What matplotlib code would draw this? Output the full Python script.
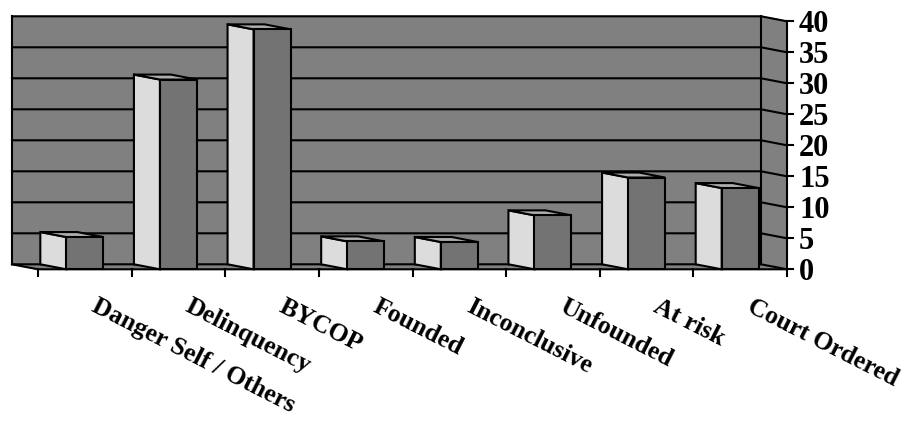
import numpy as np
import matplotlib
matplotlib.use('Agg')
import matplotlib.pyplot as plt

categories = ['Danger Self / Others', 'Delinquency', 'BYCOP', 'Founded',
              'Inconclusive', 'Unfounded', 'At risk', 'Court Ordered']
values = [5.2, 30.6, 38.7, 4.5, 4.4, 8.7, 14.8, 13.1]
y_ticks = [0, 5, 10, 15, 20, 25, 30, 35, 40]

WALL = '#808080'
FRONT = '#737373'
SIDE = '#dcdcdc'
TOP = '#adadad'
LW = 1.5

# figure pixels: category axis runs 38..787 px, value axis 269.3 (0) .. 21.3 (40)
W, H = 916, 425
x_px0, x_px1 = 38.0, 787.0
y_px0, y_px40 = 269.3, 21.3
ncat = len(categories)
ymax = y_ticks[-1]
sx = (x_px1 - x_px0) / ncat          # px per category
sy = (y_px0 - y_px40) / ymax         # px per value unit

# depth offset of the back plane, in data units
dx = -26.0 / sx
dy = 5.0 / sy

fig = plt.figure(figsize=(W / 100, H / 100), dpi=100)
ax = fig.add_axes([0, 0, 1, 1])
ax.set_xlim(-x_px0 / sx, (W - x_px0) / sx)
ax.set_ylim(-(H - y_px0) / sy, y_px0 / sy)
ax.axis('off')

# back wall
ax.fill([dx, ncat + dx, ncat + dx, dx], [dy, dy, ymax + dy, ymax + dy],
        color=WALL, zorder=1)
# right side wall
ax.fill([ncat + dx, ncat, ncat, ncat + dx], [dy, 0, ymax, ymax + dy],
        color=WALL, zorder=1)
# floor
ax.fill([dx, ncat + dx, ncat, 0], [dy, dy, 0, 0], color=WALL, zorder=1)

# gridlines on back and side walls
for t in y_ticks:
    ax.plot([dx, ncat + dx, ncat], [t + dy, t + dy, t], color='black',
            lw=LW, zorder=2, solid_capstyle='projecting')
ax.plot([dx, dx], [dy, ymax + dy], color='black', lw=LW, zorder=2)
ax.plot([ncat + dx, ncat + dx], [dy, ymax + dy], color='black', lw=LW, zorder=2)
# floor edges
ax.plot([dx, 0, ncat], [dy, 0, 0], color='black', lw=LW, zorder=2)

# 3D columns: left side face, top face, front face
bw = 37.0 / sx
for i, v in enumerate(values):
    x0 = i + 0.5 - bw / 2
    x1 = x0 + bw
    ax.fill([x0, x0, x0 + dx, x0 + dx], [0, v, v + dy, dy],
            facecolor=SIDE, edgecolor='black', lw=LW, zorder=3)
    ax.fill([x0, x1, x1 + dx, x0 + dx], [v, v, v + dy, v + dy],
            facecolor=TOP, edgecolor='black', lw=LW, zorder=3)
    ax.fill([x0, x1, x1, x0], [0, 0, v, v],
            facecolor=FRONT, edgecolor='black', lw=LW, zorder=4)

# value axis on the right
ax.plot([ncat, ncat], [0, ymax], color='black', lw=LW, zorder=5)
tick_len_x = 6.0 / sx
for t in y_ticks:
    ax.plot([ncat, ncat + tick_len_x], [t, t], color='black', lw=LW, zorder=5)
    ax.text(ncat + 12.0 / sx, t, str(t), ha='left', va='center_baseline',
            fontsize=22, fontweight='bold', family='Liberation Serif')

# category ticks and labels
tick_len_y = 7.0 / sy
for i in range(ncat + 1):
    ax.plot([i, i], [0, -tick_len_y], color='black', lw=LW, zorder=5)
for i, lab in enumerate(categories):
    ax.text(i + 0.65, -(295 - y_px0) / sy, lab, rotation=-27,
            rotation_mode='anchor', ha='left', va='top', fontsize=18.5,
            fontweight='bold', family='Liberation Serif')

fig.savefig('out.png', dpi=100)
